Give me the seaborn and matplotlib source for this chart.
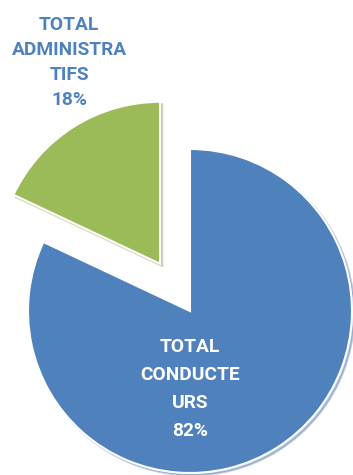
import matplotlib
matplotlib.use("Agg")
import matplotlib.pyplot as plt
import seaborn as sns

# Staff split: drivers vs administrative staff
categories = ["TOTAL CONDUCTEURS", "TOTAL ADMINISTRATIFS"]
shares = [82, 18]
label_lines = ["TOTAL\nCONDUCTE\nURS\n82%", "TOTAL\nADMINISTRA\nTIFS\n18%"]
slice_colors = ["#4F81BD", "#9BBB59"]
explode = [0.0, 0.345]

sns.set_theme(style="white")
plt.rcParams["font.family"] = ["Roboto", "DejaVu Sans"]

fig = plt.figure(figsize=(3.53, 4.75), dpi=100)
ax = fig.add_axes([0, 0, 1, 1])

wedges, _ = ax.pie(
    shares,
    colors=slice_colors,
    explode=explode,
    startangle=90,
    counterclock=False,
    radius=1.0,
    wedgeprops=dict(edgecolor="white", linewidth=1.5),
    shadow=dict(ox=0.01, oy=-0.01, shade=0.15, alpha=0.35),
)

# Drivers label sits inside the large slice, admin label above the exploded slice
ax.text(0.0, -0.481, label_lines[0], ha="center", va="center",
        color="white", fontsize=13.8, fontweight="bold", linespacing=1.7)
ax.text(-0.747, 1.534, label_lines[1], ha="center", va="center",
        color="#4F81BD", fontsize=13.8, fontweight="bold", linespacing=1.5)

ax.set_xlim(-190 / 162, (353 - 190) / 162)
ax.set_ylim(-(475 - 311) / 162, 311 / 162)
ax.set_aspect("equal")
ax.axis("off")

fig.savefig("out.png", dpi=100, facecolor="white")
